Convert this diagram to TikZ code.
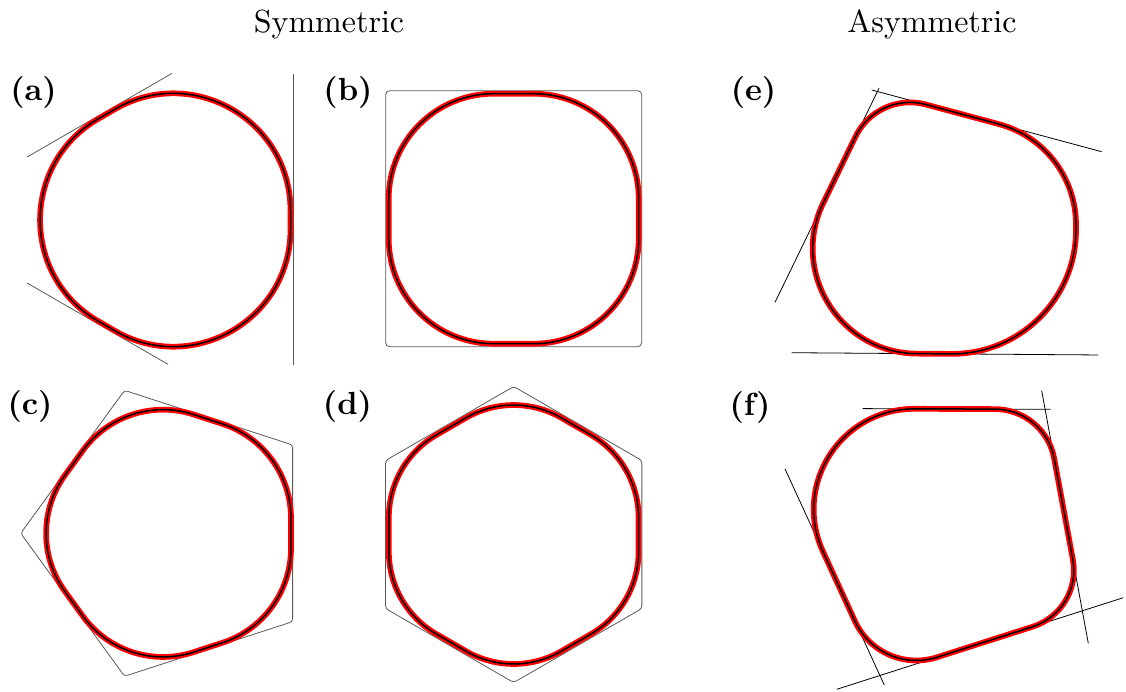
\documentclass[tikz,border=0pt]{standalone}
\usepackage{fontspec}
\newfontfamily\tenrm{lmroman10-regular}[Extension=.otf, BoldFont=lmroman10-bold]
\usetikzlibrary{calc}
% one rounded corner: from the cut point towards #1, round #2, to the cut point towards #3
\newcommand{\rcorner}[5]{-- ($(#2)!#4!(#1)$) .. controls ($(#2)!#5!(#1)$) and ($(#2)!#5!(#3)$) .. ($(#2)!#4!(#3)$)}
\begin{document}
\begin{tikzpicture}[
    x=1pt, y=-1pt,
    polyline/.style={draw=black!65, line width=0.8pt},
    tline/.style={draw=black, line width=0.8pt},
    profile/.style={draw=red, double=black, double distance=1.5pt, line width=2.1pt},
    panel/.style={font=\tenrm\fontsize{32}{38}\selectfont\bfseries, anchor=base},
    heading/.style={font=\tenrm\fontsize{32}{38}\selectfont, anchor=base}
]
\useasboundingbox (0,0) rectangle (1126,691);
% Titles
\node[heading] (symtitle) at (329,32.3) {Symmetric};
\node[heading] (asymtitle) at (932,32.3) {Asymmetric};
% Panel labels
\node[panel] (la) at (33.5,100) {(a)};
\node[panel] (lb) at (348,100) {(b)};
\node[panel] (le) at (753.5,100) {(e)};
\node[panel] (lc) at (30,414) {(c)};
\node[panel] (ld) at (347.5,414) {(d)};
\node[panel] (lf) at (750,415) {(f)};

% (a) triangle
\begin{scope}[shift={(168,220)}]
  \foreach \ang [count=\i] in {-60,60,180} {
    \coordinate (a\i) at (\ang:250);
    \coordinate (ai\i) at (\ang:245);
  }
\end{scope}
\draw[polyline] ($(a3)!0.2907!(a1)$) -- ($(a3)!0.6773!(a1)$);
\draw[polyline] ($(a3)!0.2907!(a2)$) -- ($(a3)!0.6667!(a2)$);
\draw[polyline] ($(a1)!0.1628!(a2)$) -- ($(a1)!0.8349!(a2)$);
\draw[profile] ($(ai1)!202.6pt!(ai3)$) \rcorner{ai3}{ai1}{ai2}{202.6pt}{112.7pt}
  \rcorner{ai1}{ai2}{ai3}{202.6pt}{112.7pt} \rcorner{ai2}{ai3}{ai1}{202.6pt}{112.7pt} -- cycle;

% (b) square
\begin{scope}[shift={(513.7,218.7)}]
  \foreach \ang [count=\i] in {-135,-45,45,135} {
    \coordinate (b\i) at (\ang:181.02);
    \coordinate (bi\i) at (\ang:176.78);
  }
\end{scope}
\draw[polyline, rounded corners=4pt] (b1) -- (b2) -- (b3) -- (b4) -- cycle;
\draw[profile] ($(bi1)!105pt!(bi4)$) \rcorner{bi4}{bi1}{bi2}{105pt}{47pt}
  \rcorner{bi1}{bi2}{bi3}{105pt}{47pt} \rcorner{bi2}{bi3}{bi4}{105pt}{47pt}
  \rcorner{bi3}{bi4}{bi1}{105pt}{47pt} -- cycle;

% (c) pentagon
\begin{scope}[shift={(171,533.3)}]
  \foreach \ang [count=\i] in {180,252,324,36,108} {
    \coordinate (c\i) at (\ang:150.3);
    \coordinate (ci\i) at (\ang:148.3);
  }
\end{scope}
\draw[polyline, rounded corners=3pt] (c1) -- (c2) -- (c3) -- (c4) -- (c5) -- cycle;
\draw[profile] ($(ci1)!72pt!(ci5)$) \rcorner{ci5}{ci1}{ci2}{72pt}{29.1pt}
  \rcorner{ci1}{ci2}{ci3}{72pt}{29.1pt} \rcorner{ci2}{ci3}{ci4}{72pt}{29.1pt}
  \rcorner{ci3}{ci4}{ci5}{72pt}{29.1pt} \rcorner{ci4}{ci5}{ci1}{72pt}{29.1pt} -- cycle;

% (d) hexagon
\begin{scope}[shift={(513.7,534.5)}]
  \foreach \ang [count=\i] in {-90,-30,30,90,150,210} {
    \coordinate (d\i) at (\ang:148);
    \coordinate (di\i) at (\ang:144.2);
  }
\end{scope}
\draw[polyline, rounded corners=3pt] (d1) -- (d2) -- (d3) -- (d4) -- (d5) -- (d6) -- cycle;
\draw[profile] ($(di1)!55pt!(di6)$) \rcorner{di6}{di1}{di2}{55pt}{21pt}
  \rcorner{di1}{di2}{di3}{55pt}{21pt} \rcorner{di2}{di3}{di4}{55pt}{21pt}
  \rcorner{di3}{di4}{di5}{55pt}{21pt} \rcorner{di4}{di5}{di6}{55pt}{21pt}
  \rcorner{di5}{di6}{di1}{55pt}{21pt} -- cycle;

% (e) three tangent lines
\coordinate (eA) at (877.4,91.5);
\coordinate (eB) at (1076,144.8);
\coordinate (eC) at (1076,354.8);
\coordinate (eD) at (750.7,352.4);
\draw[tline] ($(eD)!0.192!(eA)$) -- ($(eD)!1.013!(eA)$);
\draw[tline] ($(eA)!-0.029!(eB)$) -- ($(eA)!1.129!(eB)$);
\draw[tline] ($(eD)!0.126!(eC)$) -- ($(eD)!1.0686!(eC)$);
\draw[profile] ($(eA)!50pt!(eD)$) \rcorner{eD}{eA}{eB}{50pt}{21pt}
  \rcorner{eA}{eB}{eC}{80pt}{32.8pt} \rcorner{eB}{eC}{eD}{125pt}{56pt}
  \rcorner{eC}{eD}{eA}{166pt}{89.3pt} -- cycle;

% (f) four tangent lines
\coordinate (fA) at (757.1,408.2);
\coordinate (fB) at (1045.1,409.3);
\coordinate (fC) at (1082.3,610.8);
\coordinate (fD) at (879.9,675.5);
\draw[tline] ($(fA)!0.3667!(fB)$) -- ($(fA)!1.0194!(fB)$);
\draw[tline] ($(fB)!-0.0923!(fC)$) -- ($(fB)!1.1613!(fC)$);
\draw[tline] ($(fD)!-0.2134!(fC)$) -- ($(fD)!1.2026!(fC)$);
\draw[tline] ($(fA)!0.2275!(fD)$) -- ($(fA)!1.0355!(fD)$);
\draw[profile] ($(fA)!158pt!(fD)$) \rcorner{fD}{fA}{fB}{158pt}{84pt}
  \rcorner{fA}{fB}{fC}{50pt}{21pt} \rcorner{fB}{fC}{fD}{52pt}{22.3pt}
  \rcorner{fC}{fD}{fA}{60pt}{25.7pt} -- cycle;
\end{tikzpicture}
\end{document}
